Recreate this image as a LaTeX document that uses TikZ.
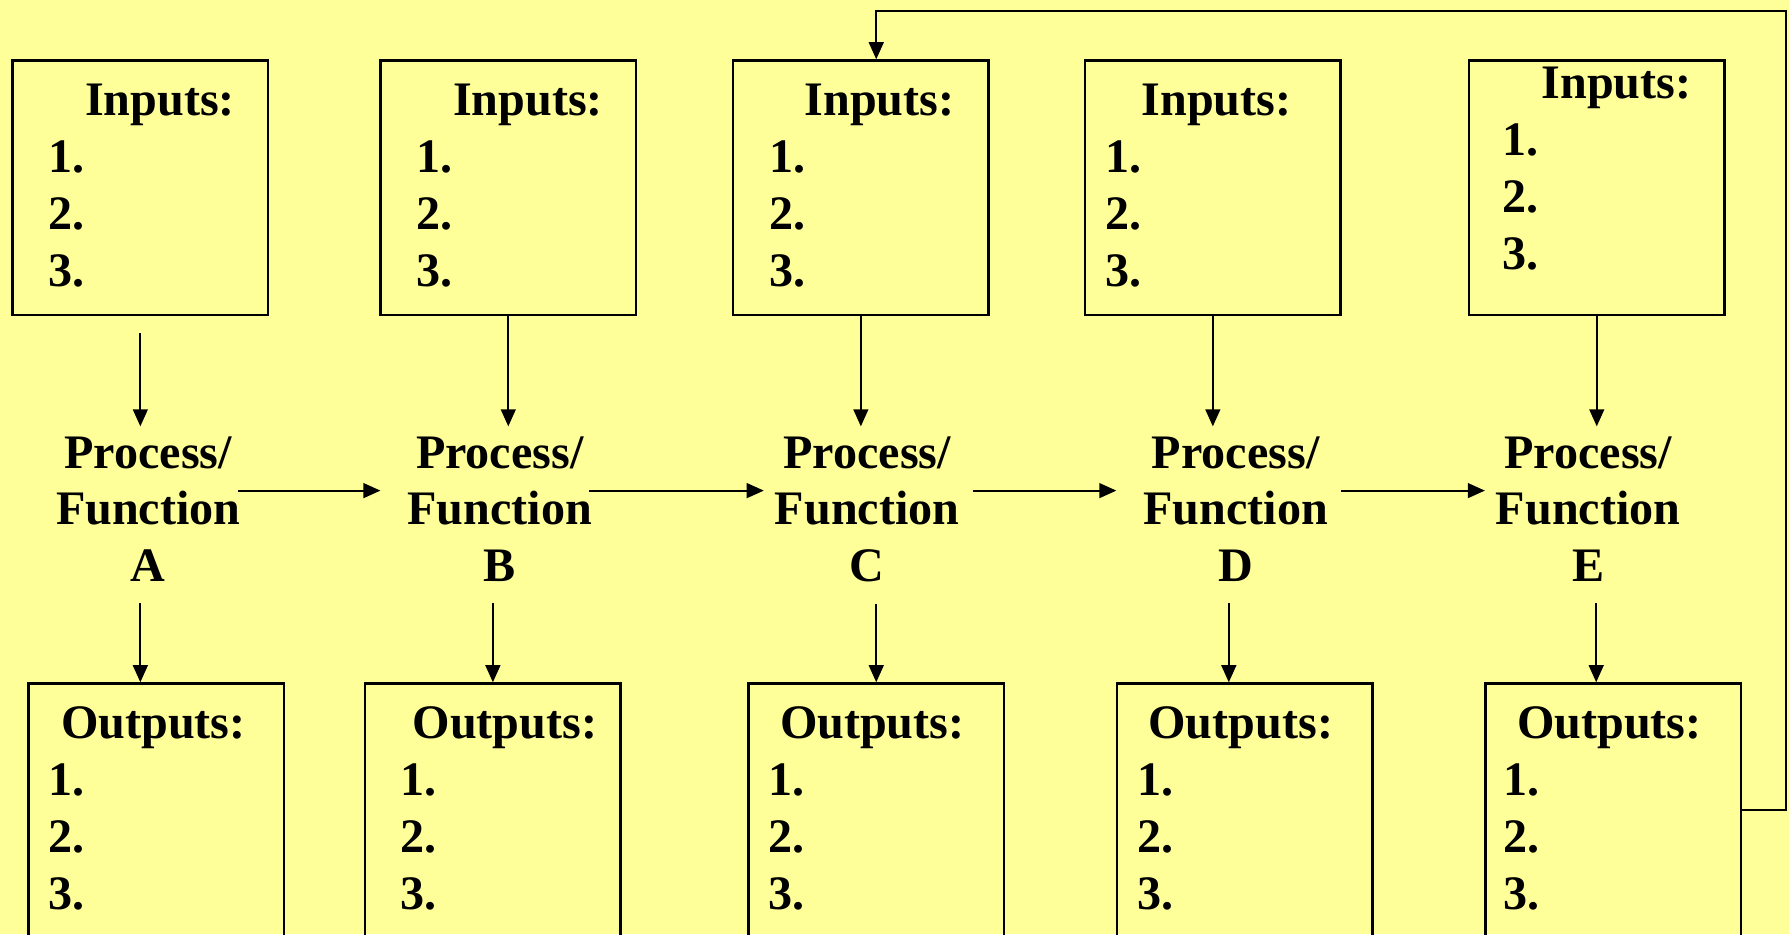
\documentclass[tikz,border=0pt]{standalone}
\usepackage{fontspec}
\setmainfont{Liberation Serif}
\usepackage{tikz}
\usetikzlibrary{arrows.meta}
\definecolor{slideyellow}{RGB}{255,255,153}
\newcommand{\numlist}[2]{\hspace*{#1}#2\\1.\\2.\\3.}

\begin{document}
\begin{tikzpicture}[
  box/.style={draw, line width=0.6pt, minimum width=2.24cm, inner sep=0pt, anchor=north},
  txt/.style={align=left, anchor=base west, inner sep=0pt, font=\fontsize{12}{14.2}\selectfont\bfseries},
  proc/.style={align=center, anchor=base, inner sep=0.08cm, font=\fontsize{12}{14.2}\selectfont\bfseries},
  arr/.style={-{Triangle[length=1.5mm,width=1.3mm]}, line width=0.5pt}
]
\useasboundingbox (0,0) rectangle (15.68,8.19);
\clip (0,0) rectangle (15.68,8.19);
\fill[slideyellow] (0,0) rectangle (15.68,8.19);

%% inputs
\node[box, minimum height=2.23cm] (inA) at (1.23,7.67) {};
\node[box, minimum height=2.23cm] (inB) at (4.455,7.67) {};
\node[box, minimum height=2.23cm] (inC) at (7.545,7.67) {};
\node[box, minimum height=2.23cm] (inD) at (10.63,7.67) {};
\node[box, minimum height=2.23cm] (inE) at (13.995,7.67) {};
\node[txt] (inAtxt) at ([xshift=0.32cm,yshift=-1.99cm]inA.north west) {\numlist{0.32cm}{Inputs:}};
\node[txt] (inBtxt) at ([xshift=0.32cm,yshift=-1.99cm]inB.north west) {\numlist{0.32cm}{Inputs:}};
\node[txt] (inCtxt) at ([xshift=0.32cm,yshift=-1.99cm]inC.north west) {\numlist{0.31cm}{Inputs:}};
\node[txt] (inDtxt) at ([xshift=0.18cm,yshift=-1.99cm]inD.north west) {\numlist{0.32cm}{Inputs:}};
\node[txt] (inEtxt) at ([xshift=0.30cm,yshift=-1.84cm]inE.north west) {\numlist{0.34cm}{Inputs:}};

%% processes
\node[proc] (procA) at (1.30,3.09) {Process/\\Function\\A};
\node[proc] (procB) at (4.38,3.09) {Process/\\Function\\B};
\node[proc] (procC) at (7.60,3.09) {Process/\\Function\\C};
\node[proc] (procD) at (10.83,3.09) {Process/\\Function\\D};
\node[proc] (procE) at (13.92,3.09) {Process/\\Function\\E};

%% outputs
\node[box, minimum height=3cm] (outA) at (1.37,2.21) {};
\node[box, minimum height=3cm] (outB) at (4.32,2.21) {};
\node[box, minimum height=3cm] (outC) at (7.68,2.21) {};
\node[box, minimum height=3cm] (outD) at (10.91,2.21) {};
\node[box, minimum height=3cm] (outE) at (14.14,2.21) {};
\node[txt] (outAtxt) at ([xshift=0.18cm,yshift=-1.99cm]outA.north west) {\numlist{0.11cm}{Outputs:}};
\node[txt] (outBtxt) at ([xshift=0.31cm,yshift=-1.99cm]outB.north west) {\numlist{0.11cm}{Outputs:}};
\node[txt] (outCtxt) at ([xshift=0.18cm,yshift=-1.99cm]outC.north west) {\numlist{0.10cm}{Outputs:}};
\node[txt] (outDtxt) at ([xshift=0.18cm,yshift=-1.99cm]outD.north west) {\numlist{0.10cm}{Outputs:}};
\node[txt] (outEtxt) at ([xshift=0.16cm,yshift=-1.99cm]outE.north west) {\numlist{0.12cm}{Outputs:}};

%% inputs to processes
\draw[arr, shorten <=0.15cm] (inA.south) -- (inA.south |- procA.north);
\draw[arr] (inB.south) -- (inB.south |- procB.north);
\draw[arr] (inC.south) -- (inC.south |- procC.north);
\draw[arr] (inD.south) -- (inD.south |- procD.north);
\draw[arr] (inE.south) -- (inE.south |- procE.north);

%% processes to outputs
\draw[arr, shorten <=0.1cm] ([xshift=-0.14cm]outA.north |- procA.south) -- ([xshift=-0.14cm]outA.north);
\draw[arr, shorten <=0.1cm] (outB.north |- procB.south) -- (outB.north);
\draw[arr, shorten <=0.1cm] (outC.north |- procC.south) -- (outC.north);
\draw[arr, shorten <=0.1cm] ([xshift=-0.14cm]outD.north |- procD.south) -- ([xshift=-0.14cm]outD.north);
\draw[arr, shorten <=0.1cm] ([xshift=-0.15cm]outE.north |- procE.south) -- ([xshift=-0.15cm]outE.north);

%% process chain
\draw[arr] ([xshift=-0.11cm,yshift=0.8cm]procA.base east) -- ([xshift=-0.15cm,yshift=0.8cm]procB.base west);
\draw[arr] ([xshift=-0.11cm,yshift=0.8cm]procB.base east) -- ([xshift=-0.01cm,yshift=0.8cm]procC.base west);
\draw[arr] ([xshift=0.03cm,yshift=0.8cm]procC.base east) -- ([xshift=-0.15cm,yshift=0.8cm]procD.base west);
\draw[arr] ([xshift=0.03cm,yshift=0.8cm]procD.base east) -- ([xshift=-0.01cm,yshift=0.8cm]procE.base west);

%% feedback
\coordinate (loopTR) at (15.65,8.09);
\draw[arr] ([yshift=-1.12cm]outE.north east) -| (loopTR) -| ([xshift=0.135cm]inC.north);
\end{tikzpicture}
\end{document}
